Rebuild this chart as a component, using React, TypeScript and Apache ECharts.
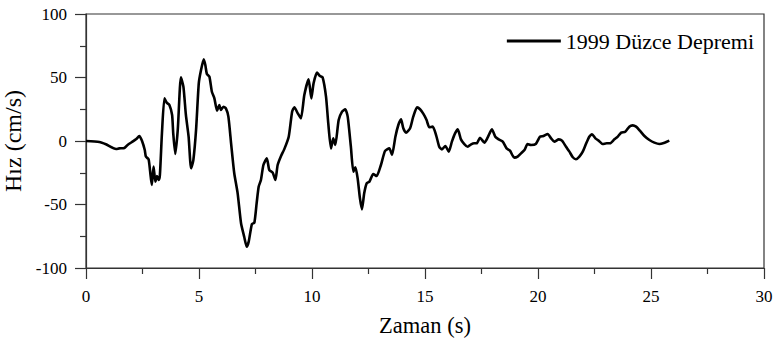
import React, { useEffect, useRef } from "react";
import * as echarts from "echarts";

const timeS: number[] = [
  0, 0.59, 0.88, 1.33, 1.47, 1.7, 1.84, 2.06, 2.21, 2.36,
  2.48, 2.6, 2.65, 2.77, 2.83, 2.91, 2.99, 3.07, 3.14, 3.22,
  3.27, 3.36, 3.47, 3.57, 3.69, 3.81, 3.86, 3.95, 4.06, 4.2,
  4.31, 4.42, 4.54, 4.65, 4.75, 4.87, 4.99, 5.09, 5.21, 5.28,
  5.35, 5.46, 5.57, 5.68, 5.8, 5.9, 5.97, 6.08, 6.19, 6.3,
  6.42, 6.56, 6.71, 6.86, 7.0, 7.11, 7.2, 7.34, 7.45, 7.55,
  7.64, 7.74, 7.85, 8.0, 8.11, 8.26, 8.38, 8.48, 8.63, 8.77,
  8.97, 9.12, 9.22, 9.37, 9.51, 9.66, 9.85, 9.97, 10.07, 10.22,
  10.35, 10.47, 10.62, 10.72, 10.84, 10.94, 11.03, 11.18, 11.33, 11.47,
  11.58, 11.72, 11.83, 11.92, 12.02, 12.12, 12.21, 12.31, 12.42, 12.54,
  12.71, 12.86, 13.05, 13.23, 13.42, 13.54, 13.69, 13.82, 13.94, 14.04,
  14.16, 14.34, 14.48, 14.65, 14.78, 14.93, 15.07, 15.19, 15.34, 15.49,
  15.63, 15.75, 15.9, 16.05, 16.19, 16.33, 16.45, 16.59, 16.74, 16.89,
  17.04, 17.18, 17.29, 17.43, 17.63, 17.77, 17.96, 18.11, 18.26, 18.44,
  18.61, 18.76, 18.95, 19.1, 19.25, 19.4, 19.54, 19.69, 19.9, 20.09,
  20.24, 20.43, 20.58, 20.72, 20.92, 21.06, 21.24, 21.39, 21.54, 21.68,
  21.83, 21.98, 22.12, 22.27, 22.39, 22.54, 22.68, 22.86, 23.04, 23.19,
  23.38, 23.53, 23.68, 23.86, 24.04, 24.19, 24.34, 24.51, 24.71, 24.93,
  25.15, 25.37, 25.6, 25.81,
];

const velocity: number[] = [
  0, -0.8, -2.6, -6.3, -5.8, -5.5, -3.1, -0.5, 1.3, 3.9,
  0, -7.1, -12.3, -14.4, -22.8, -34.6, -20.2, -32, -27.6, -30.7,
  -26.8, 6, 33.6, 30.2, 28.4, 20.5, 6, -10.2, 8.7, 50.1,
  42.8, 20.5, 3.4, -21.5, -15, 8.7, 45.4, 55.9, 64.3, 59.8,
  52.8, 50.7, 38.8, 33.6, 23.9, 28.3, 24.4, 27, 25.7, 19.2,
  -1.8, -25.4, -41.2, -64.8, -75.4, -83.2, -79.2, -65.4, -64.3, -49.1,
  -36, -30.7, -18.9, -13.6, -22.8, -24.9, -30.7, -18.9, -11.8, -6.6,
  3.4, 23.1, 26.5, 21.8, 17.8, 36.2, 48.6, 33.6, 45.4, 53.8,
  51.2, 50.1, 34.9, 13.9, -5.8, 2.1, -3.1, 16.5, 23.1, 24.9,
  19.2, -4.5, -24.1, -20.7, -29.4, -45, -53.8, -41.2, -33.3, -32,
  -26, -27.6, -18.9, -7.9, -5.8, -11, 3.4, 12.6, 17.1, 10,
  6.6, 10, 19.2, 26.5, 25, 21.3, 16.5, 10.8, 11.3, 4.7,
  -4.5, -6.6, -3.9, -8.4, -0.5, 6, 9.2, 1.3, -2.4, -4.5,
  -2.6, -1.8, -1.8, 2.6, -1.3, 2.6, 9.2, 3.4, 1.3, -0.5,
  -5.8, -7.6, -13.1, -12.3, -9.7, -7.1, -2.4, -3.1, -2.4, 3.4,
  3.9, 5.5, 2.1, -0.5, 1.3, 0.3, -4.5, -8.4, -12.8, -14.4,
  -12.3, -8.4, -2.4, 3.4, 5.2, 2.1, 0.3, -2.4, -1.8, -1.8,
  1.3, 3.4, 6.6, 7.3, 11.3, 12.3, 11.3, 8.1, 3.9, 0.8,
  -1.3, -2.4, -1.3, 0.3,
];

const seriesName = "1999 Düzce Depremi";
const xAxisName = "Zaman (s)";
const yAxisName = "Hız (cm/s)";

const FONT = "Times New Roman, Liberation Serif, DejaVu Serif, serif";

export default function App() {
  const ref = useRef<HTMLDivElement>(null);
  useEffect(() => {
    if (!ref.current) return;
    const chart = echarts.init(ref.current, undefined, { renderer: "svg" });
    const n = Math.min(timeS.length, velocity.length);
    const data: number[][] = [];
    for (let i = 0; i < n; i++) data.push([timeS[i], velocity[i]]);
    const axisLine = { show: true, onZero: false, lineStyle: { color: "#333", width: 1.2 } };
    chart.setOption({
      animation: false,
      backgroundColor: "#fff",
      textStyle: { fontFamily: FONT },
      grid: {
        left: 86,
        right: 10,
        top: 14,
        bottom: 76,
        containLabel: false,
        outerBoundsMode: "none",
        show: true,
        borderColor: "#333",
        borderWidth: 1.2,
        backgroundColor: "transparent",
      },
      legend: {
        show: true,
        right: 20,
        top: 30,
        padding: 0,
        icon: "rect",
        itemWidth: 54,
        itemHeight: 3,
        itemGap: 10,
        textStyle: { fontFamily: FONT, fontSize: 22, color: "#000", padding: [0, 0, 0, 0] },
        data: [seriesName],
      },
      xAxis: {
        type: "value",
        min: 0,
        max: 30,
        interval: 5,
        name: xAxisName,
        nameLocation: "middle",
        nameGap: 46,
        nameTextStyle: { fontFamily: FONT, fontSize: 22.5, color: "#000" },
        axisLine,
        axisTick: { show: true, length: 11, lineStyle: { color: "#333", width: 1.2 } },
        minorTick: { show: true, splitNumber: 2, length: 6, lineStyle: { color: "#333", width: 1.2 } },
        axisLabel: { fontFamily: FONT, fontSize: 17, color: "#000", margin: 20 },
        splitLine: { show: false },
      },
      yAxis: {
        type: "value",
        min: -100,
        max: 100,
        interval: 50,
        name: yAxisName,
        nameLocation: "middle",
        nameGap: 48,
        nameTextStyle: { fontFamily: FONT, fontSize: 24, color: "#000" },
        axisLine,
        axisTick: { show: true, length: 11, lineStyle: { color: "#333", width: 1.2 } },
        minorTick: { show: true, splitNumber: 2, length: 6, lineStyle: { color: "#333", width: 1.2 } },
        axisLabel: { fontFamily: FONT, fontSize: 17, color: "#000", margin: 19 },
        splitLine: { show: false },
      },
      series: [
        {
          name: seriesName,
          type: "line",
          data,
          showSymbol: false,
          symbol: "none",
          smooth: 0.2,
          lineStyle: { color: "#000", width: 2.6 },
          itemStyle: { color: "#000" },
        },
      ],
    });
    return () => chart.dispose();
  }, []);
  return (
    <div
      ref={ref}
      style={{ position: "fixed", left: 0, top: 0, width: 774, height: 344 }}
    />
  );
}
